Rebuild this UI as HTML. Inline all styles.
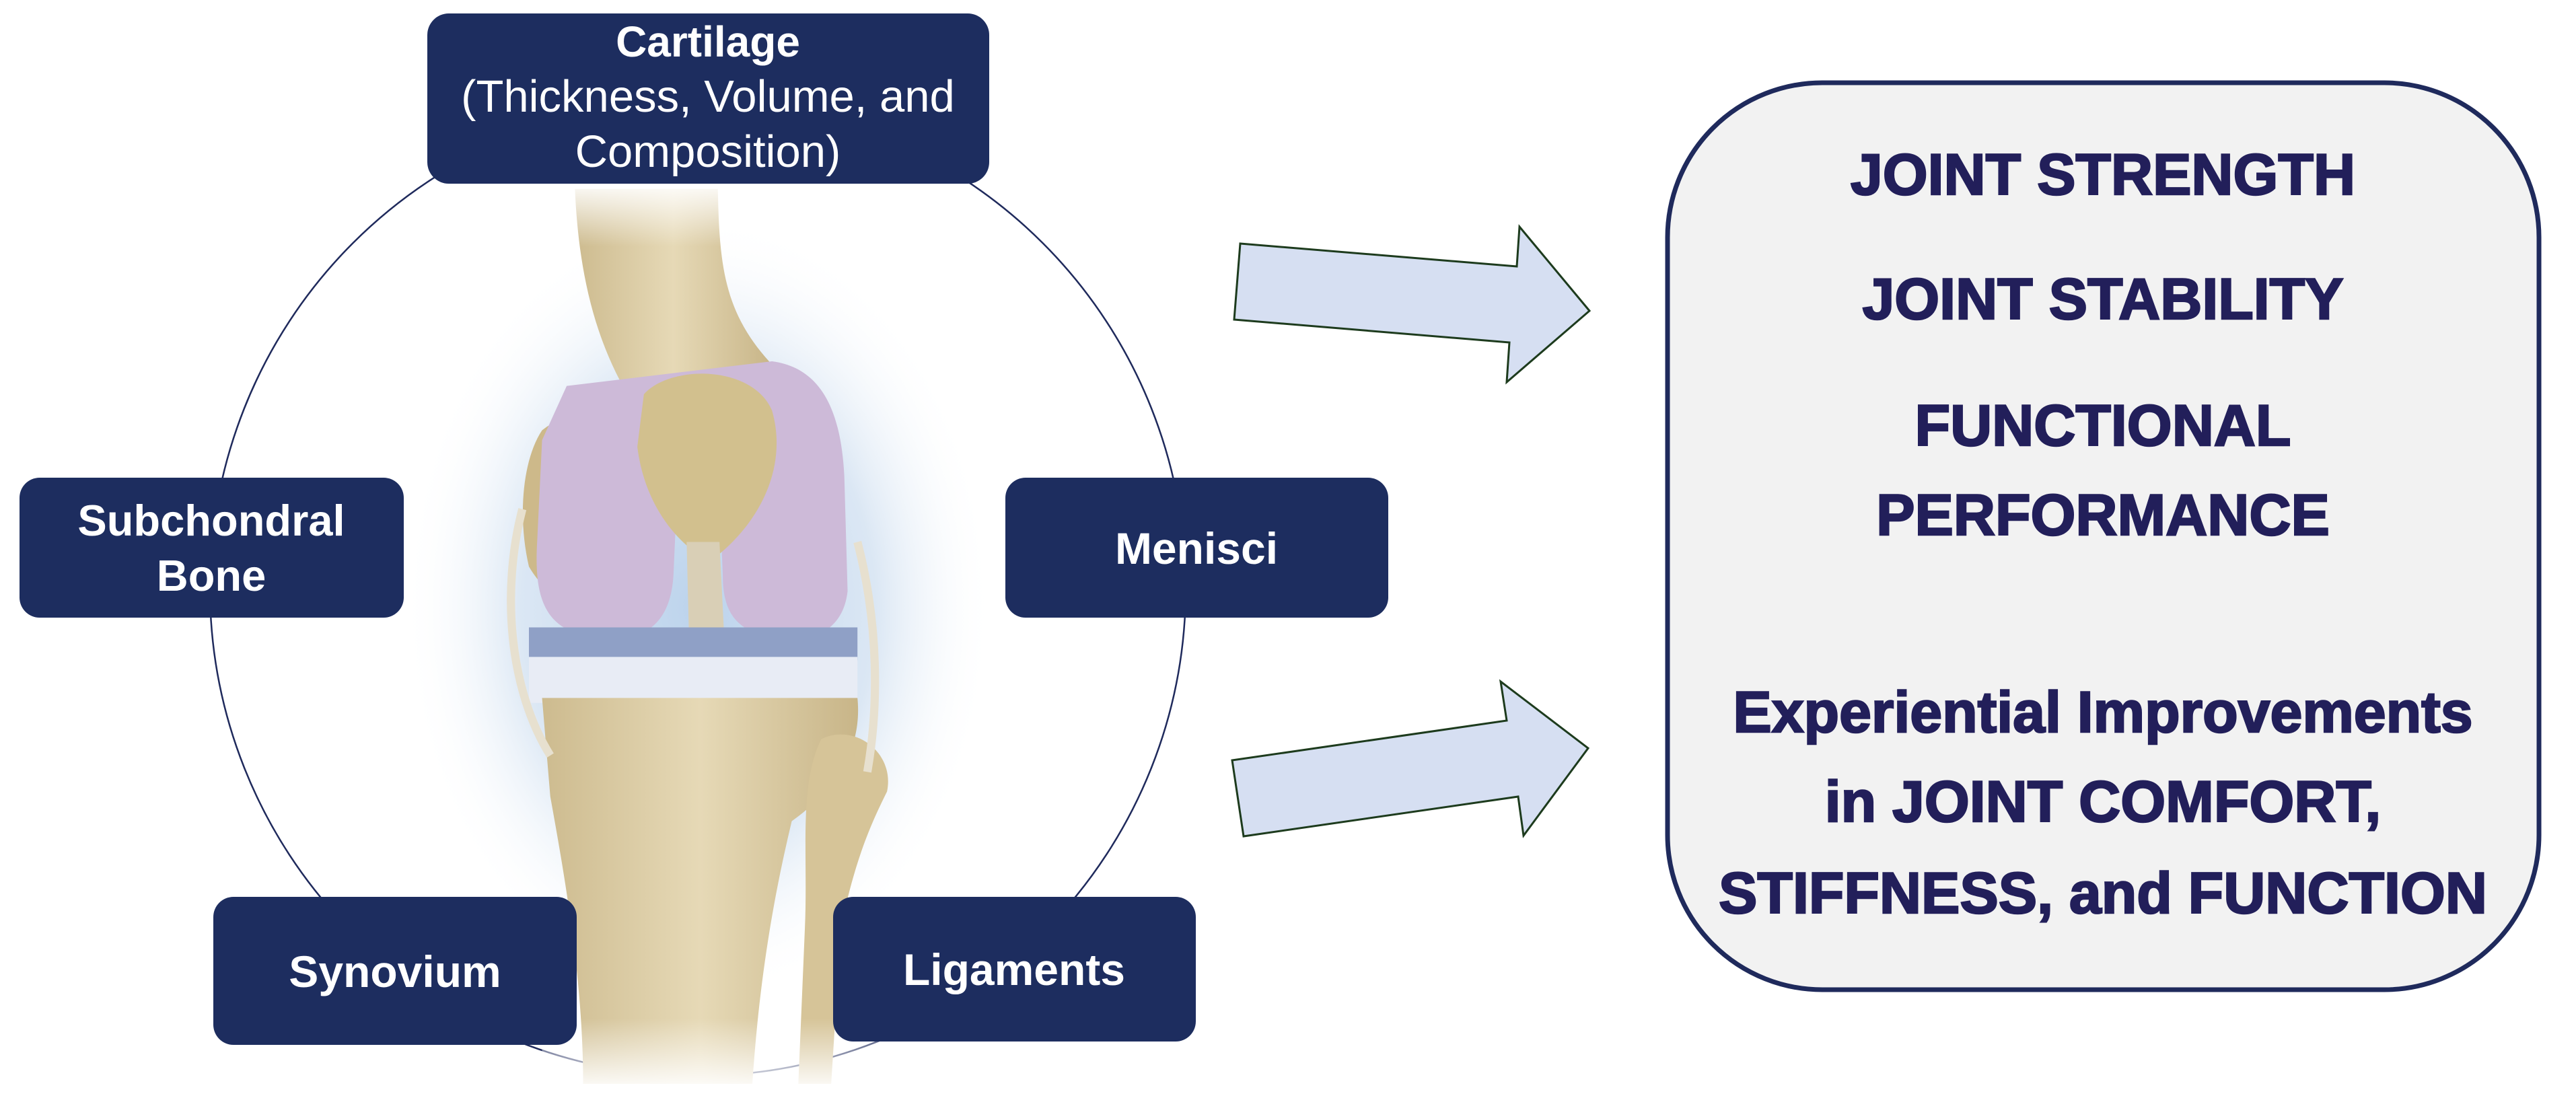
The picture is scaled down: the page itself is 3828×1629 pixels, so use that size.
<!DOCTYPE html>
<html><head><meta charset="utf-8"><style>
html,body{margin:0;padding:0;background:#fff;}
svg{display:block;}
</style></head><body>
<svg width="3828" height="1629" viewBox="0 0 3828 1629" xmlns="http://www.w3.org/2000/svg">
<defs>
<radialGradient id="glow" cx="0.5" cy="0.5" r="0.5">
<stop offset="0" stop-color="#bcd3ec"/>
<stop offset="0.6" stop-color="#dbe7f4"/>
<stop offset="1" stop-color="#ffffff" stop-opacity="0"/>
</radialGradient>
<linearGradient id="bone" x1="0" y1="0" x2="1" y2="0">
<stop offset="0" stop-color="#cdbb8f"/>
<stop offset="0.5" stop-color="#e6d9b6"/>
<stop offset="1" stop-color="#c8b588"/>
</linearGradient>
<linearGradient id="fadeTop" x1="0" y1="0" x2="0" y2="1">
<stop offset="0" stop-color="#fff" stop-opacity="1"/>
<stop offset="1" stop-color="#fff" stop-opacity="0"/>
</linearGradient>
<linearGradient id="fadeBot" x1="0" y1="0" x2="0" y2="1">
<stop offset="0" stop-color="#fff" stop-opacity="0"/>
<stop offset="1" stop-color="#fff" stop-opacity="1"/>
</linearGradient>
</defs>
<rect width="3828" height="1629" fill="#fff"/>
<circle cx="1037" cy="874" r="725" fill="none" stroke="#1f2a5c" stroke-width="2.5"/>
<g transform="scale(2.441)">
<ellipse cx="425" cy="370" rx="180" ry="240" fill="url(#glow)"/>
<path d="M350,115 L437,115 C438,160 440,190 470,222 L385,245 C360,205 352,160 350,115 Z" fill="url(#bone)"/>
<path d="M330,262 C345,250 365,250 372,270 L370,350 C360,372 338,372 322,345 C315,315 318,280 330,262 Z" fill="#cdb98a"/>
<path d="M345,235 L470,220 C500,224 512,250 514,290 L516,360 C513,386 492,392 470,388 C446,384 440,370 440,350 L438,300 L425,294 L412,305 L410,350 C408,386 385,392 360,388 C332,383 325,365 327,330 L330,268 Z" fill="#cdbad8"/>
<path d="M392,240 C408,222 458,222 470,250 C480,285 462,320 432,342 C410,330 392,305 388,272 Z" fill="#d2c08e"/>
<path d="M418,330 L438,330 L442,410 L420,410 Z" fill="#d9cfb6"/>
<path d="M322,382 L522,382 L522,402 L322,402 Z" fill="#8fa0c6"/>
<path d="M322,400 L522,400 L522,428 L322,428 Z" fill="#e8ecf5"/>
<path d="M330,425 L522,425 C525,455 510,480 482,500 C470,550 462,600 458,660 L355,660 C355,600 345,540 335,485 Z" fill="url(#bone)"/>
<path d="M500,450 C520,440 545,458 540,482 C530,502 520,525 512,565 L506,660 L486,660 L490,565 C492,520 486,478 500,450 Z" fill="#d6c498"/>
<path d="M318,310 C305,360 310,420 335,460" fill="none" stroke="#e7e0cf" stroke-width="5"/>
<path d="M522,330 C535,380 535,430 528,470" fill="none" stroke="#e7e0cf" stroke-width="5"/>
<rect x="330" y="110" width="130" height="40" fill="url(#fadeTop)"/>
<rect x="330" y="620" width="220" height="45" fill="url(#fadeBot)"/>
</g>
<g fill="#1d2d5f">
<rect x="635" y="20" width="835" height="253" rx="32"/>
<rect x="29" y="710" width="571" height="208" rx="30"/>
<rect x="1494" y="710" width="569" height="208" rx="30"/>
<rect x="317" y="1333" width="540" height="220" rx="30"/>
<rect x="1238" y="1333" width="539" height="215" rx="30"/>
</g>
<g fill="#fff" font-family="'Liberation Sans', sans-serif" text-anchor="middle">
<text x="1052" y="84" font-size="64" font-weight="bold">Cartilage</text>
<text x="1052" y="166" font-size="67">(Thickness, Volume, and</text>
<text x="1052" y="248" font-size="67">Composition)</text>
<text x="314" y="796" font-size="65" font-weight="bold">Subchondral</text>
<text x="314" y="878" font-size="65" font-weight="bold">Bone</text>
<text x="1778" y="838" font-size="66" font-weight="bold">Menisci</text>
<text x="587" y="1467" font-size="66" font-weight="bold">Synovium</text>
<text x="1507" y="1464" font-size="66" font-weight="bold">Ligaments</text>
</g>
<g fill="#d6dff2" stroke="#1d3b1d" stroke-width="3" stroke-linejoin="miter">
<polygon points="1843,362 2254,396 2258,337 2362,462 2239,568 2243,509 1834,475"/>
<polygon points="1831,1130 2239,1071 2230,1013 2360,1112 2264,1242 2256,1184 1848,1243"/>
</g>
<rect x="2478" y="123" width="1295" height="1348" rx="230" fill="#f2f2f2" stroke="#1f2a5c" stroke-width="7"/>
<g fill="#221f5a" stroke="#221f5a" stroke-width="2.5" font-family="'Liberation Sans', sans-serif" font-weight="bold" text-anchor="middle" font-size="86">
<text x="3125" y="289">JOINT STRENGTH</text>
<text x="3125" y="474">JOINT STABILITY</text>
<text x="3125" y="662">FUNCTIONAL</text>
<text x="3125" y="795">PERFORMANCE</text>
<text x="3125" y="1088">Experiential Improvements</text>
<text x="3125" y="1221">in JOINT COMFORT,</text>
<text x="3125" y="1357">STIFFNESS, and FUNCTION</text>
</g>
</svg>
</body></html>
